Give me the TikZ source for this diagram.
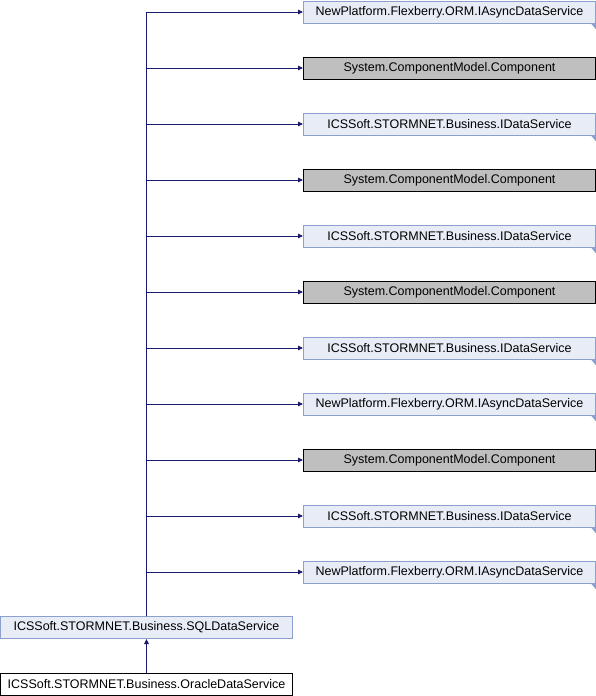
\documentclass[tikz,border=0pt]{standalone}
\usepackage{fontspec}
\setmainfont{Liberation Sans}
\usetikzlibrary{arrows.meta}
\definecolor{edgec}{HTML}{191970}
\definecolor{extfill}{HTML}{E8ECF6}
\definecolor{extdraw}{HTML}{8CA0CC}
\definecolor{grayfill}{HTML}{BFBFBF}
\tikzset{
  base/.style={minimum height=22pt, inner sep=0pt, font=\fontsize{12.5}{14}\selectfont, line width=1pt},
  extbox/.style={base, draw=extdraw, fill=extfill, minimum width=292pt},
  graybox/.style={base, draw=black, fill=grayfill, minimum width=292pt},
  whitebox/.style={base, draw=black, fill=white, minimum width=292pt},
  edge/.style={draw=edgec, line width=1pt, -{Triangle[length=5pt,width=4.5pt]}},
}
\begin{document}
\begin{tikzpicture}[x=1pt,y=-1pt]
\useasboundingbox (0,0) rectangle (596,696);
\node[extbox] (b1) at (449.5,12) {NewPlatform.Flexberry.ORM.IAsyncDataService};
\node[graybox] (b2) at (449.5,68) {System.ComponentModel.Component};
\node[extbox] (b3) at (449.5,124) {ICSSoft.STORMNET.Business.IDataService};
\node[graybox] (b4) at (449.5,180) {System.ComponentModel.Component};
\node[extbox] (b5) at (449.5,236) {ICSSoft.STORMNET.Business.IDataService};
\node[graybox] (b6) at (449.5,292) {System.ComponentModel.Component};
\node[extbox] (b7) at (449.5,348) {ICSSoft.STORMNET.Business.IDataService};
\node[extbox] (b8) at (449.5,404) {NewPlatform.Flexberry.ORM.IAsyncDataService};
\node[graybox] (b9) at (449.5,460) {System.ComponentModel.Component};
\node[extbox] (b10) at (449.5,516) {ICSSoft.STORMNET.Business.IDataService};
\node[extbox] (b11) at (449.5,572) {NewPlatform.Flexberry.ORM.IAsyncDataService};
\node[extbox] (sql) at (146.5,627.5) {ICSSoft.STORMNET.Business.SQLDataService};
\node[whitebox] (ora) at (146.5,684) {ICSSoft.STORMNET.Business.OracleDataService};
\foreach \b in {b1,b3,b5,b7,b8,b10,b11}{
  \fill[extdraw] ([yshift=-6pt]\b.south east) -- (\b.south east) -- ([xshift=-5pt]\b.south east) -- cycle;
}
\foreach \b in {b1,b2,b3,b4,b5,b6,b7,b8,b9,b10,b11}{
  \draw[edge] (sql.north) |- (\b.west);
}
\draw[edge] (ora.north) -- (sql.south);
\end{tikzpicture}
\end{document}
